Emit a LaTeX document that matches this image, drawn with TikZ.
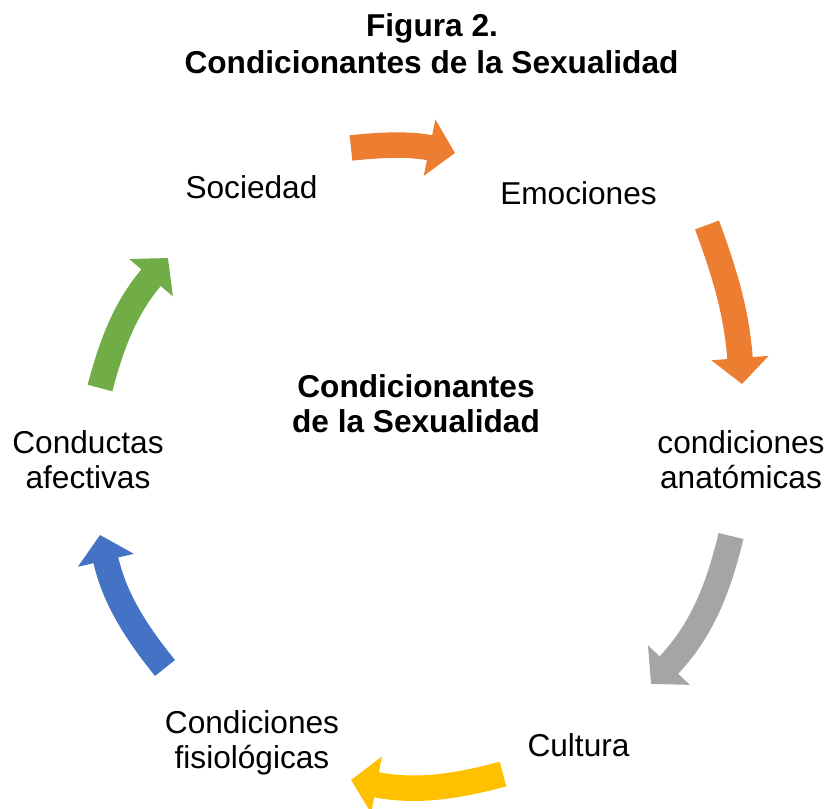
\documentclass[tikz,border=0pt]{standalone}
\usepackage{fontspec}
\setmainfont{Liberation Sans}
\usetikzlibrary{arrows.meta}
\definecolor{naranja}{HTML}{ED7D31}
\definecolor{gris}{HTML}{A5A5A5}
\definecolor{oro}{HTML}{FFC000}
\definecolor{azul}{HTML}{4472C4}
\definecolor{verde}{HTML}{70AD47}
\begin{document}
\begin{tikzpicture}[x=0.02cm, y=0.02cm,
  every node/.style = {align=center, font=\fontsize{18}{20}\selectfont},
  ciclo/.style={line width=0.51cm, -{Triangle[length=0.52cm, width=1.12cm]}}]
  \useasboundingbox (0,0) rectangle (828,808);
  % titulo
  \node[font=\fontsize{18}{20}\selectfont\bfseries] (fig) at (432,780) {Figura 2.};
  \node[font=\fontsize{18}{20}\selectfont\bfseries] (tit) at (431.5,746) {Condicionantes de la Sexualidad};
  \node[font=\fontsize{18}{20}\selectfont\bfseries] (centro) at (416,404) {Condicionantes\\de la Sexualidad};
  % elementos del ciclo
  \node (soc) at (251.5,621) {Sociedad};
  \node (emo) at (578.5,615) {Emociones};
  \node (anat) at (741,348) {condiciones\\anatómicas};
  \node (cult) at (578.5,63) {Cultura};
  \node (fisio) at (252,65) {Condiciones\\fisiológicas};
  \node (cond) at (88,348) {Conductas\\afectivas};
  % extremos de las flechas
  \coordinate (a1) at (351,660); \coordinate (b1) at (455,655);
  \coordinate (a2) at (707,583); \coordinate (b2) at (742,424);
  \coordinate (a3) at (731,272); \coordinate (b3) at (651,124);
  \coordinate (a4) at (503,34);  \coordinate (b4) at (351,28);
  \coordinate (a5) at (165,140); \coordinate (b5) at (100,273);
  \coordinate (a6) at (100,420); \coordinate (b6) at (168,550);
  \draw[ciclo, naranja] (a1) to[bend left=9] (b1);
  \draw[ciclo, naranja] (a2) to[bend left=8] (b2);
  \draw[ciclo, gris] (a3) to[bend left=15] (b3);
  \draw[ciclo, oro] (a4) to[bend left=13] (b4);
  \draw[ciclo, azul] (a5) to[bend left=13] (b5);
  \draw[ciclo, verde] (a6) to[bend left=13] (b6);
\end{tikzpicture}
\end{document}
